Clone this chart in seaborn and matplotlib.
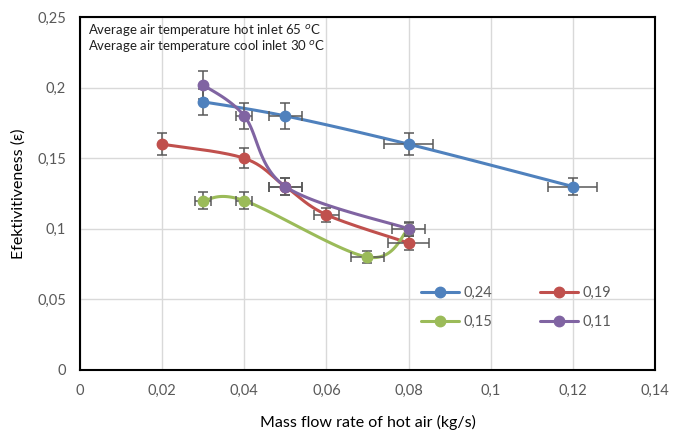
import numpy as np
import pandas as pd
import seaborn as sns
import matplotlib.pyplot as plt
from matplotlib.lines import Line2D

# data
series = ['0,24', '0,19', '0,15', '0,11']
colors = ['#4F81BD', '#C0504D', '#9BBB59', '#8064A2']

x_024 = [0.03, 0.05, 0.08, 0.12]
y_024 = [0.19, 0.18, 0.16, 0.13]
xe_024 = [0.0, 0.004, 0.006, 0.006]
ye_024 = [0.009, 0.009, 0.008, 0.006]

x_019 = [0.02, 0.04, 0.05, 0.06, 0.08]
y_019 = [0.16, 0.15, 0.13, 0.11, 0.09]
xe_019 = [0.0, 0.0, 0.004, 0.003, 0.005]
ye_019 = [0.008, 0.007, 0.006, 0.005, 0.005]

x_015 = [0.03, 0.04, 0.07, 0.08]
y_015 = [0.12, 0.12, 0.08, 0.10]
xe_015 = [0.002, 0.002, 0.004, 0.0]
ye_015 = [0.006, 0.006, 0.004, 0.004]

x_011 = [0.03, 0.04, 0.05, 0.08]
y_011 = [0.202, 0.18, 0.13, 0.10]
xe_011 = [0.0, 0.002, 0.004, 0.004]
ye_011 = [0.010, 0.009, 0.006, 0.005]

xs = [x_024, x_019, x_015, x_011]
ys = [y_024, y_019, y_015, y_011]
xes = [xe_024, xe_019, xe_015, xe_011]
yes = [ye_024, ye_019, ye_015, ye_011]

xmax, ymax = 0.14, 0.25


def smooth(x, y, n=40):
    # Excel-like smoothed line (Bezier through points), done in screen-ish units
    sx, sy = 575 / xmax, 353 / ymax
    P = np.column_stack([np.array(x) * sx, np.array(y) * sy])
    m = len(P)
    out = []
    t = np.linspace(0, 1, n)[:, None]
    for i in range(m - 1):
        p0 = P[max(i - 1, 0)]
        p1, p2 = P[i], P[i + 1]
        p3 = P[min(i + 2, m - 1)]
        c1 = p1 + (p2 - p0) / 6
        c2 = p2 - (p3 - p1) / 6
        seg = ((1 - t) ** 3) * p1 + 3 * ((1 - t) ** 2) * t * c1 + 3 * (1 - t) * t ** 2 * c2 + t ** 3 * p2
        out.append(seg if i == 0 else seg[1:])
    out = np.vstack(out)
    return out[:, 0] / sx, out[:, 1] / sy


sns.set_style('white')
plt.rcParams['font.family'] = ['Lato', 'DejaVu Sans']

fig = plt.figure(figsize=(6.82, 4.34), dpi=100)
ax = fig.add_axes([0.1173, 0.1475, 0.843, 0.813])

frames = []
for name, x, y in zip(series, xs, ys):
    cx, cy = smooth(x, y)
    frames.append(pd.DataFrame({'x': cx, 'y': cy, 'series': name}))
curves = pd.concat(frames, ignore_index=True)

sns.lineplot(data=curves, x='x', y='y', hue='series', palette=dict(zip(series, colors)),
             sort=False, estimator=None, units='series', linewidth=2.2, legend=False, ax=ax, zorder=3)

for name, x, y, xe, ye, c in zip(series, xs, ys, xes, yes, colors):
    ax.errorbar(x, y, xerr=xe, yerr=ye, fmt='none', ecolor='#595959', elinewidth=1.1,
                capsize=3.5, capthick=1.1, zorder=4)
    ax.plot(x, y, 'o', color=c, markersize=7.5, zorder=5)

ax.set_xlim(0, xmax)
ax.set_ylim(0, ymax)
xt = [0, 0.02, 0.04, 0.06, 0.08, 0.1, 0.12, 0.14]
yt = [0, 0.05, 0.1, 0.15, 0.2, 0.25]
ax.set_xticks(xt)
ax.set_yticks(yt)
ax.set_xticklabels(['0', '0,02', '0,04', '0,06', '0,08', '0,1', '0,12', '0,14'])
ax.set_yticklabels(['0', '0,05', '0,1', '0,15', '0,2', '0,25'])
ax.tick_params(axis='both', colors='#595959', labelsize=10.5, length=0, pad=10)
ax.grid(True, color='#d9d9d9', linewidth=1)
for s in ax.spines.values():
    s.set_color('black')
    s.set_linewidth(1.5)

ax.set_xlabel('Mass flow rate of hot air (kg/s)', fontsize=11.5, color='black', labelpad=12)
ax.set_ylabel('Efektivitiveness (ε)', fontsize=11.5, color='black', labelpad=8)

ax.text(0.014, 0.985, 'Average air temperature hot inlet 65 $^{o}$C\nAverage air temperature cool inlet 30 $^{o}$C',
        transform=ax.transAxes, va='top', ha='left', fontsize=9.5, linespacing=1.0, color='#202020')

# matplotlib fills legend columns first, so reorder to get rows 0,24 0,19 / 0,15 0,11
order = [0, 2, 1, 3]
handles = [Line2D([0], [0], color=colors[i], lw=2.2, marker='o', markersize=7.5) for i in order]
labels = [series[i] for i in order]
ax.legend(handles, labels, ncol=2, frameon=False, loc='lower left', bbox_to_anchor=(0.57, 0.08),
          columnspacing=3.3, handlelength=2.6, handletextpad=0.3, labelspacing=1.0, fontsize=10.5,
          labelcolor='#595959')

fig.savefig('out.png', dpi=100)
